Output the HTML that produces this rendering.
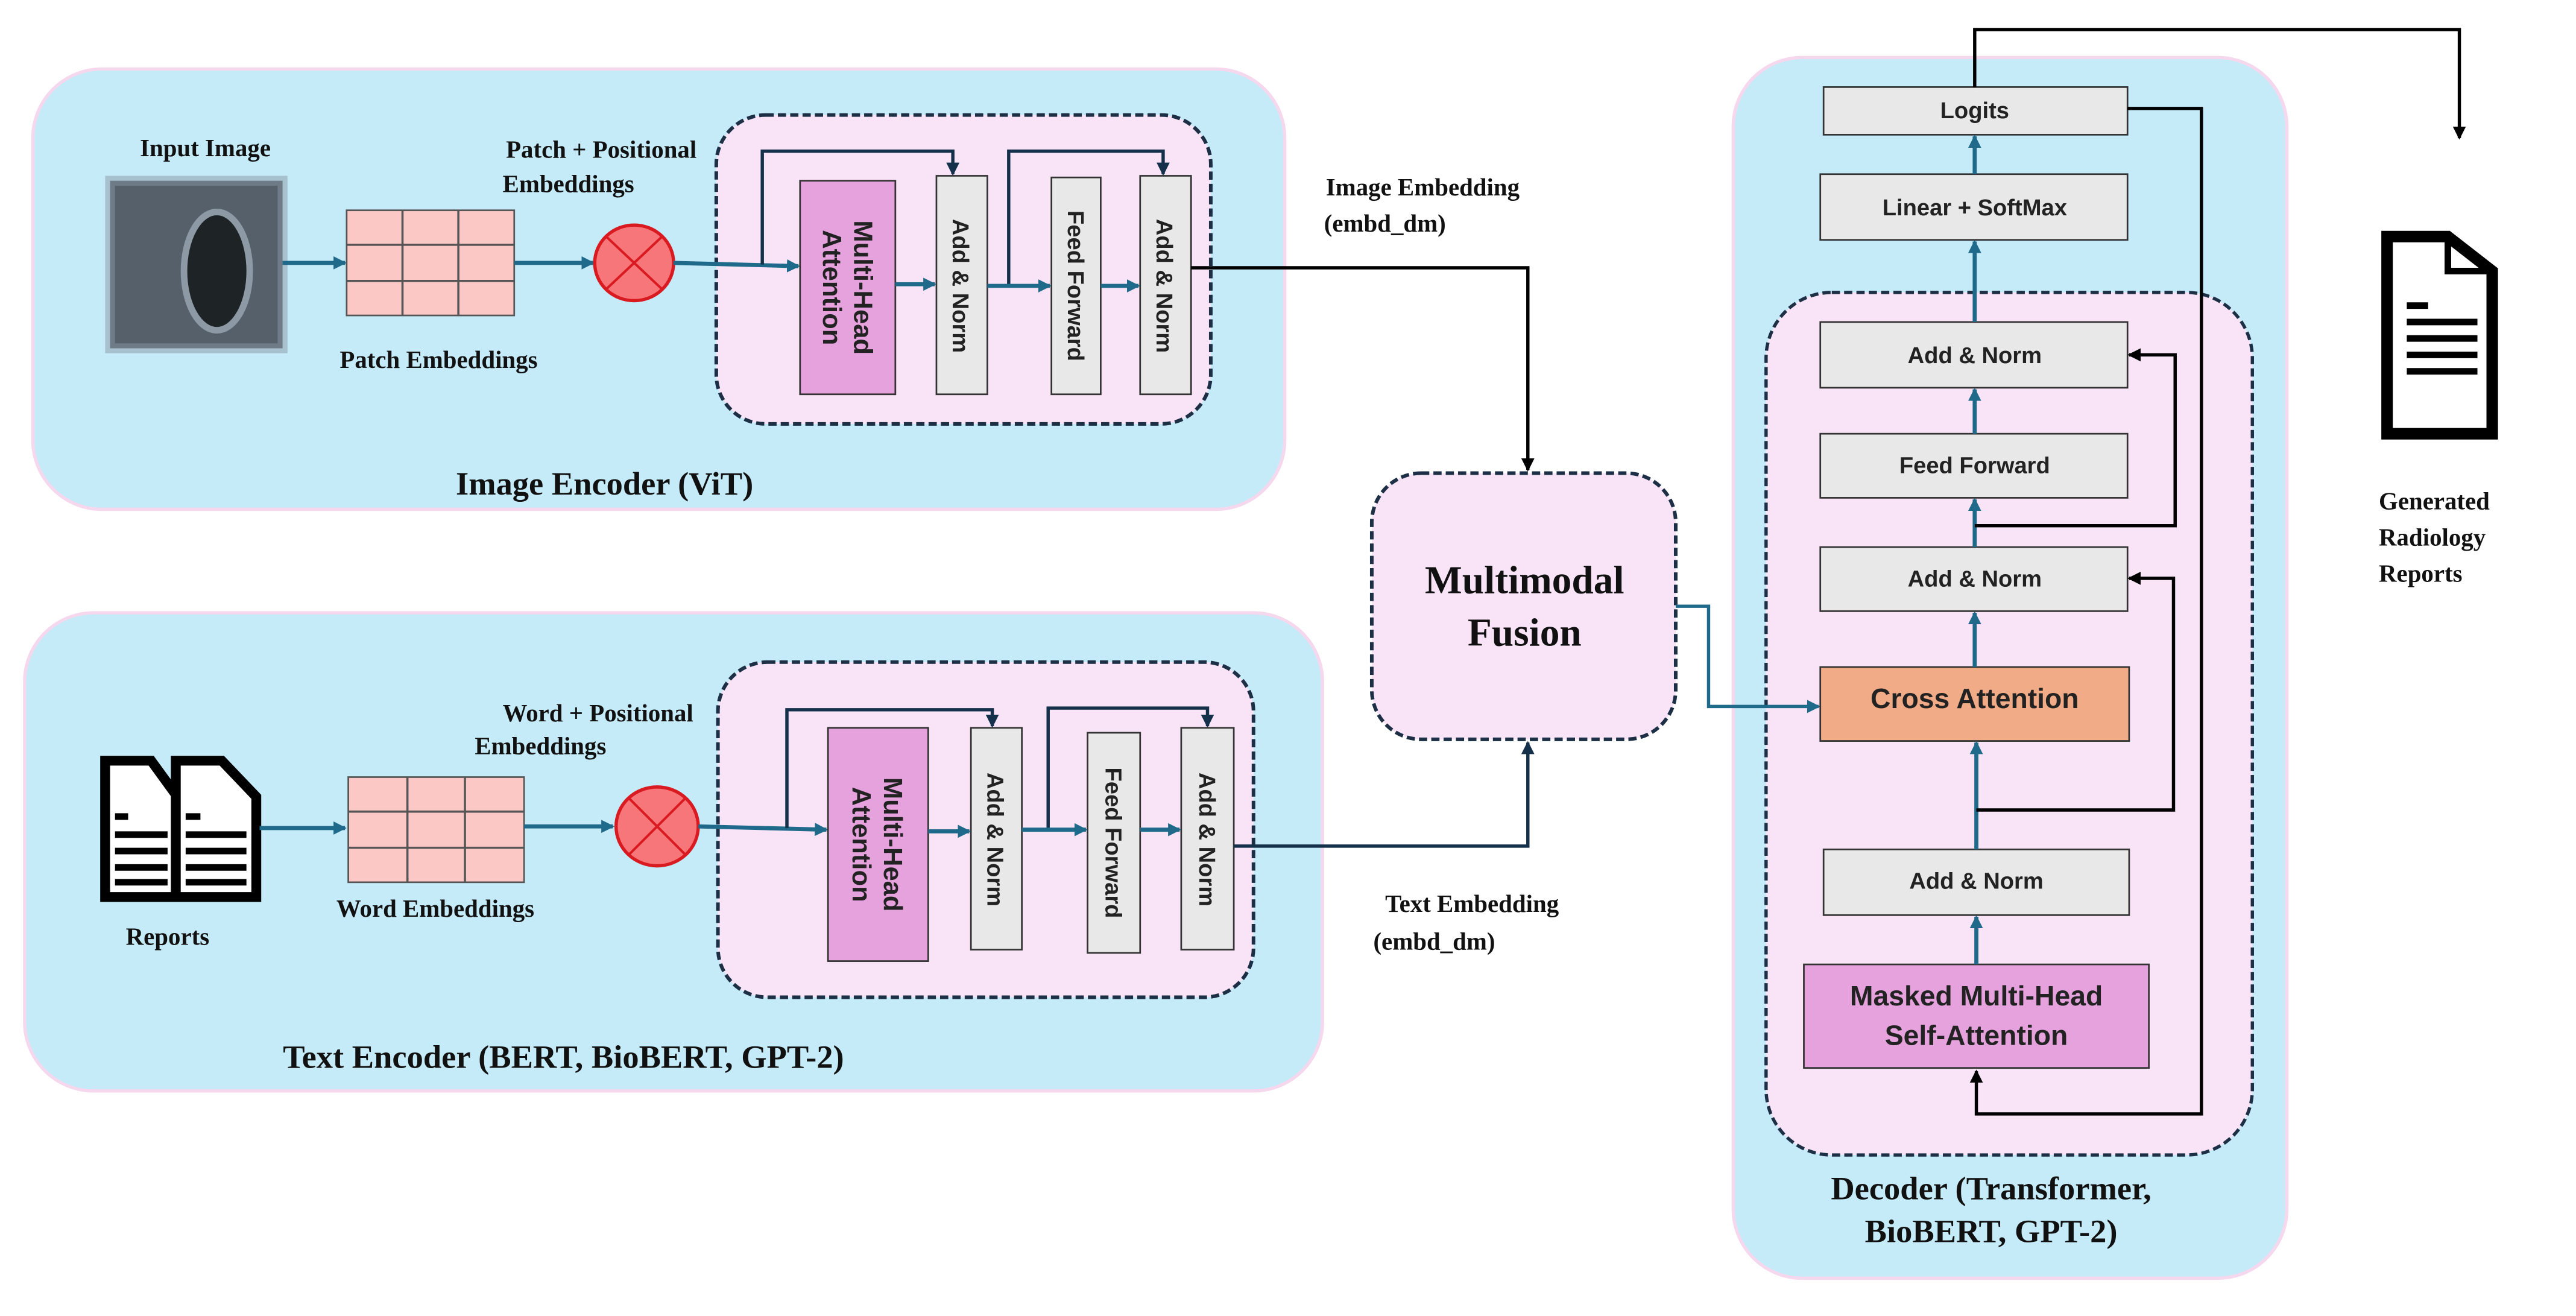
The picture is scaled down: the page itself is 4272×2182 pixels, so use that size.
<!DOCTYPE html>
<html><head><meta charset="utf-8"><style>
html,body{margin:0;padding:0;background:#fff;width:4272px;height:2182px;overflow:hidden}
svg{display:block}
.ser{font-family:"Liberation Serif",serif;font-weight:bold;fill:#111}
.san{font-family:"Liberation Sans",sans-serif;font-weight:bold;fill:#222}
</style></head><body>
<svg width="4272" height="2182" viewBox="0 0 1568 801" preserveAspectRatio="none" xmlns="http://www.w3.org/2000/svg">
<defs>
<marker id="at" markerWidth="8" markerHeight="8" refX="7" refY="4" orient="auto" markerUnits="userSpaceOnUse"><path d="M0,0 L8,4 L0,8 Z" fill="#1f6a8a"/></marker>
<marker id="ab" markerWidth="8" markerHeight="8" refX="7" refY="4" orient="auto" markerUnits="userSpaceOnUse"><path d="M0,0 L8,4 L0,8 Z" fill="#000"/></marker>
<marker id="an" markerWidth="8" markerHeight="8" refX="7" refY="4" orient="auto" markerUnits="userSpaceOnUse"><path d="M0,0 L8,4 L0,8 Z" fill="#15304a"/></marker>
</defs>
<!-- big panels -->
<rect x="20" y="42" width="762" height="268" rx="42" fill="#c6ebf8" stroke="#f6d8ee" stroke-width="2"/>
<rect x="15" y="373" width="790" height="291" rx="42" fill="#c6ebf8" stroke="#f6d8ee" stroke-width="2"/>
<rect x="1055" y="35" width="337" height="743" rx="42" fill="#c6ebf8" stroke="#f6d8ee" stroke-width="2"/>
<!-- inner dashed -->
<rect x="436" y="70" width="301" height="188" rx="30" fill="#f8e4f6" stroke="#1d2f45" stroke-width="2.2" stroke-dasharray="5,2.5"/>
<rect x="437" y="403" width="326" height="204" rx="30" fill="#f8e4f6" stroke="#1d2f45" stroke-width="2.2" stroke-dasharray="5,2.5"/>
<rect x="835" y="288" width="185" height="162" rx="30" fill="#f8e4f6" stroke="#1d2f45" stroke-width="2.2" stroke-dasharray="5,2.5"/>
<rect x="1075" y="178" width="296" height="525" rx="40" fill="#f8e4f6" stroke="#1d2f45" stroke-width="2" stroke-dasharray="5,2.5"/>

<!-- Image encoder -->
<text x="125" y="95" class="ser" font-size="15" text-anchor="middle">Input Image</text>
<rect x="67" y="110" width="105" height="102" fill="#55606a"/>
<rect x="67" y="110" width="105" height="102" fill="none" stroke="#8a97a3" stroke-width="6" opacity=".5"/>
<ellipse cx="132" cy="165" rx="20" ry="36" fill="#1e2326" stroke="#8d99a4" stroke-width="4"/>
<line x1="172" y1="160" x2="210" y2="160" stroke="#1f6a8a" stroke-width="2.5" marker-end="url(#at)"/>
<rect x="211" y="128" width="102" height="64" fill="#fcc8c6" stroke="#555" stroke-width="1"/>
<path d="M245,128V192M279,128V192M211,149H313M211,171H313" stroke="#555" stroke-width="1.3"/>
<text x="267" y="224" class="ser" font-size="15" text-anchor="middle">Patch Embeddings</text>
<line x1="313" y1="160" x2="361" y2="160" stroke="#1f6a8a" stroke-width="2.5" marker-end="url(#at)"/>
<ellipse cx="386" cy="160" rx="24" ry="23" fill="#f6767a" stroke="#d91a20" stroke-width="2"/>
<path d="M369,144L403,176M403,144L369,176" stroke="#d91a20" stroke-width="1.5"/>
<text x="366" y="96" class="ser" font-size="15" text-anchor="middle">Patch + Positional</text>
<text x="346" y="117" class="ser" font-size="15" text-anchor="middle">Embeddings</text>
<line x1="410" y1="160" x2="486" y2="162" stroke="#1f6a8a" stroke-width="2.5" marker-end="url(#at)"/>
<path d="M464,161V92H580V106" fill="none" stroke="#15304a" stroke-width="2" marker-end="url(#an)"/>
<path d="M614,174V92H708V106" fill="none" stroke="#15304a" stroke-width="2" marker-end="url(#an)"/>
<rect x="487" y="110" width="58" height="130" fill="#e6a2dd" stroke="#333" stroke-width="1"/>
<rect x="570" y="107" width="31" height="133" fill="#e8e8e8" stroke="#333" stroke-width="1"/>
<rect x="640" y="108" width="30" height="132" fill="#e8e8e8" stroke="#333" stroke-width="1"/>
<rect x="694" y="107" width="31" height="133" fill="#e8e8e8" stroke="#333" stroke-width="1"/>
<g transform="translate(516,175) rotate(90)"><text y="-4" class="san" font-size="16" text-anchor="middle">Multi-Head</text><text y="15" class="san" font-size="16" text-anchor="middle">Attention</text></g>
<g transform="translate(585,174) rotate(90)"><text y="5" class="san" font-size="14" text-anchor="middle">Add &amp; Norm</text></g>
<g transform="translate(655,174) rotate(90)"><text y="5" class="san" font-size="14" text-anchor="middle">Feed Forward</text></g>
<g transform="translate(709,174) rotate(90)"><text y="5" class="san" font-size="14" text-anchor="middle">Add &amp; Norm</text></g>
<line x1="545" y1="173" x2="569" y2="173" stroke="#1f6a8a" stroke-width="2.5" marker-end="url(#at)"/>
<line x1="601" y1="174" x2="639" y2="174" stroke="#1f6a8a" stroke-width="2.5" marker-end="url(#at)"/>
<line x1="670" y1="174" x2="693" y2="174" stroke="#1f6a8a" stroke-width="2.5" marker-end="url(#at)"/>
<path d="M725,163H930V286" fill="none" stroke="#000" stroke-width="2" marker-end="url(#ab)"/>
<text x="866" y="119" class="ser" font-size="15" text-anchor="middle">Image Embedding</text>
<text x="843" y="141" class="ser" font-size="15" text-anchor="middle">(embd_dm)</text>
<text x="368" y="301" class="ser" font-size="20" text-anchor="middle">Image Encoder (ViT)</text>

<!-- Text encoder -->
<g fill="#fff" stroke="#000" stroke-width="6">
<path d="M64,463H92L108,485V546H64Z"/>
<path d="M107,463H135L156,485V546H107Z"/>
</g>
<g stroke="#000" stroke-width="4"><path d="M70,497H78M70,508H102M70,518H102M70,528H102M70,537H102M113,497H122M113,508H150M113,518H150M113,528H150M113,537H150"/></g>
<text x="102" y="575" class="ser" font-size="15" text-anchor="middle">Reports</text>
<line x1="158" y1="504" x2="210" y2="504" stroke="#1f6a8a" stroke-width="2.5" marker-end="url(#at)"/>
<rect x="212" y="473" width="107" height="64" fill="#fcc8c6" stroke="#555" stroke-width="1"/>
<path d="M248,473V537M283,473V537M212,494H319M212,516H319" stroke="#555" stroke-width="1.3"/>
<text x="265" y="558" class="ser" font-size="15" text-anchor="middle">Word  Embeddings</text>
<line x1="319" y1="503" x2="373" y2="503" stroke="#1f6a8a" stroke-width="2.5" marker-end="url(#at)"/>
<ellipse cx="400" cy="503" rx="25" ry="24" fill="#f6767a" stroke="#d91a20" stroke-width="2"/>
<path d="M383,486L417,520M417,486L383,520" stroke="#d91a20" stroke-width="1.5"/>
<text x="364" y="439" class="ser" font-size="15" text-anchor="middle">Word + Positional</text>
<text x="329" y="459" class="ser" font-size="15" text-anchor="middle">Embeddings</text>
<line x1="425" y1="503" x2="503" y2="505" stroke="#1f6a8a" stroke-width="2.5" marker-end="url(#at)"/>
<path d="M479,504V432H604V442" fill="none" stroke="#15304a" stroke-width="2" marker-end="url(#an)"/>
<path d="M638,505V431H735V442" fill="none" stroke="#15304a" stroke-width="2" marker-end="url(#an)"/>
<rect x="504" y="443" width="61" height="142" fill="#e6a2dd" stroke="#333" stroke-width="1"/>
<rect x="591" y="443" width="31" height="135" fill="#e8e8e8" stroke="#333" stroke-width="1"/>
<rect x="662" y="446" width="32" height="134" fill="#e8e8e8" stroke="#333" stroke-width="1"/>
<rect x="719" y="443" width="32" height="135" fill="#e8e8e8" stroke="#333" stroke-width="1"/>
<g transform="translate(534,514) rotate(90)"><text y="-4" class="san" font-size="16" text-anchor="middle">Multi-Head</text><text y="15" class="san" font-size="16" text-anchor="middle">Attention</text></g>
<g transform="translate(606,511) rotate(90)"><text y="5" class="san" font-size="14" text-anchor="middle">Add &amp; Norm</text></g>
<g transform="translate(678,513) rotate(90)"><text y="5" class="san" font-size="14" text-anchor="middle">Feed Forward</text></g>
<g transform="translate(735,511) rotate(90)"><text y="5" class="san" font-size="14" text-anchor="middle">Add &amp; Norm</text></g>
<line x1="565" y1="506" x2="590" y2="506" stroke="#1f6a8a" stroke-width="2.5" marker-end="url(#at)"/>
<line x1="622" y1="505" x2="661" y2="505" stroke="#1f6a8a" stroke-width="2.5" marker-end="url(#at)"/>
<line x1="694" y1="505" x2="718" y2="505" stroke="#1f6a8a" stroke-width="2.5" marker-end="url(#at)"/>
<path d="M751,515H930V452" fill="none" stroke="#15304a" stroke-width="2" marker-end="url(#an)"/>
<text x="896" y="555" class="ser" font-size="15" text-anchor="middle">Text Embedding</text>
<text x="873" y="578" class="ser" font-size="15" text-anchor="middle">(embd_dm)</text>
<text x="343" y="650" class="ser" font-size="20" text-anchor="middle">Text Encoder (BERT, BioBERT, GPT-2)</text>

<!-- Fusion -->
<text x="928" y="361" class="ser" font-size="24" text-anchor="middle">Multimodal</text>
<text x="928" y="393" class="ser" font-size="24" text-anchor="middle">Fusion</text>
<path d="M1020,369H1040V430H1107" fill="none" stroke="#1f6a8a" stroke-width="2" marker-end="url(#at)"/>

<!-- Decoder -->
<g stroke="#333" stroke-width="1">
<rect x="1110" y="53" width="185" height="29" fill="#e8e8e8"/>
<rect x="1108" y="106" width="187" height="40" fill="#e8e8e8"/>
<rect x="1108" y="196" width="187" height="40" fill="#e8e8e8"/>
<rect x="1108" y="264" width="187" height="39" fill="#e8e8e8"/>
<rect x="1108" y="333" width="187" height="39" fill="#e8e8e8"/>
<rect x="1108" y="406" width="188" height="45" fill="#f2ab87"/>
<rect x="1110" y="517" width="186" height="40" fill="#e8e8e8"/>
<rect x="1098" y="587" width="210" height="63" fill="#e6a2dd"/>
</g>
<g class="san" text-anchor="middle">
<text x="1202" y="72" font-size="14">Logits</text>
<text x="1202" y="131" font-size="14">Linear + SoftMax</text>
<text x="1202" y="221" font-size="14">Add &amp; Norm</text>
<text x="1202" y="288" font-size="14">Feed Forward</text>
<text x="1202" y="357" font-size="14">Add &amp; Norm</text>
<text x="1202" y="431" font-size="17">Cross Attention</text>
<text x="1203" y="541" font-size="14">Add &amp; Norm</text>
<text x="1203" y="612" font-size="17">Masked Multi-Head</text>
<text x="1203" y="636" font-size="17">Self-Attention</text>
</g>
<g stroke="#1f6a8a" stroke-width="2.5" fill="none">
<line x1="1203" y1="587" x2="1203" y2="558" marker-end="url(#at)"/>
<line x1="1203" y1="517" x2="1203" y2="452" marker-end="url(#at)"/>
<line x1="1202" y1="406" x2="1202" y2="373" marker-end="url(#at)"/>
<line x1="1202" y1="333" x2="1202" y2="304" marker-end="url(#at)"/>
<line x1="1202" y1="264" x2="1202" y2="237" marker-end="url(#at)"/>
<line x1="1202" y1="196" x2="1202" y2="147" marker-end="url(#at)"/>
<line x1="1202" y1="106" x2="1202" y2="83" marker-end="url(#at)"/>
</g>
<path d="M1202,320H1324V216H1296" fill="none" stroke="#000" stroke-width="2" marker-end="url(#ab)"/>
<path d="M1203,493H1323V352H1296" fill="none" stroke="#000" stroke-width="2" marker-end="url(#ab)"/>
<path d="M1295,66H1340V678H1203V652" fill="none" stroke="#000" stroke-width="2" marker-end="url(#ab)"/>
<path d="M1202,53V18H1497V84" fill="none" stroke="#000" stroke-width="2" marker-end="url(#ab)"/>
<text x="1212" y="730" class="ser" font-size="20" text-anchor="middle">Decoder (Transformer,</text>
<text x="1212" y="756" class="ser" font-size="20" text-anchor="middle">BioBERT, GPT-2)</text>

<!-- output doc -->
<path d="M1453,144H1490L1517,165V264H1453Z" fill="#fff" stroke="#000" stroke-width="7"/>
<path d="M1490,144V165H1517" fill="none" stroke="#000" stroke-width="4"/>
<g stroke="#000" stroke-width="4"><path d="M1465,186H1478M1465,196H1508M1465,206H1508M1465,216H1508M1465,226H1508"/></g>
<text x="1448" y="310" class="ser" font-size="15">Generated</text>
<text x="1448" y="332" class="ser" font-size="15">Radiology</text>
<text x="1448" y="354" class="ser" font-size="15">Reports</text>
</svg>
</body></html>
